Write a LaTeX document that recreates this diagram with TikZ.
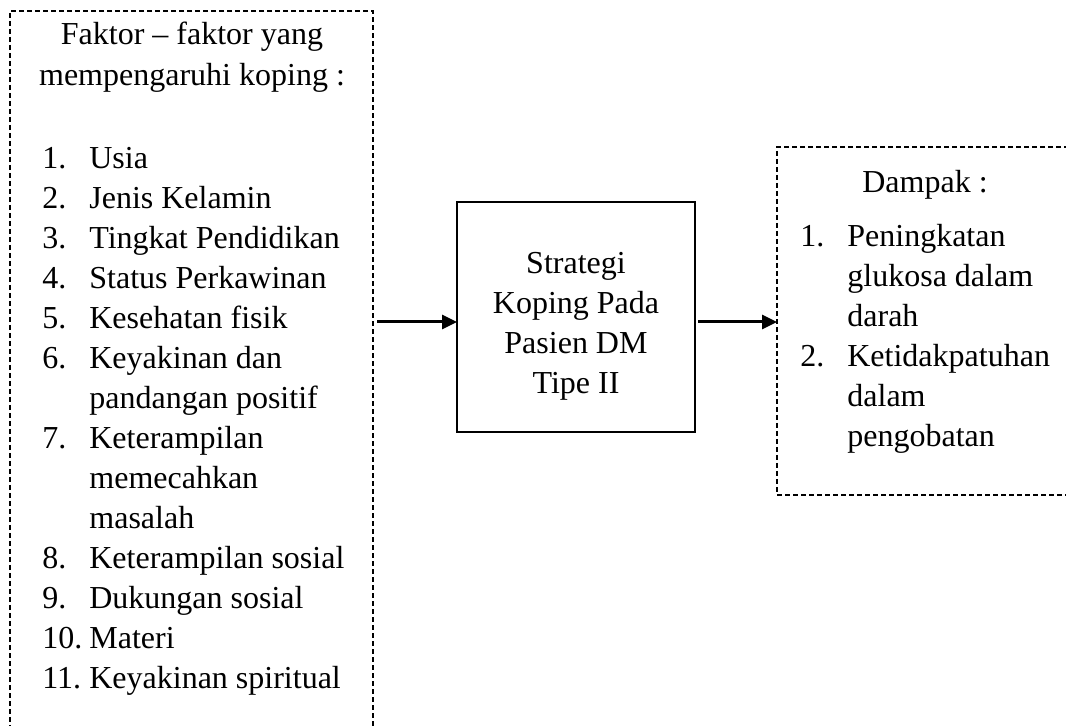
\documentclass[tikz,border=0pt]{standalone}
\usepackage{fontspec}
\setmainfont{Liberation Serif}
\usetikzlibrary{arrows.meta}
\tikzset{
  kotakputus/.style={draw, dash pattern=on 2.5pt off 1.5pt, line width=0.6pt, inner sep=0pt, outer sep=0pt, anchor=north west},
  kotak/.style={draw, line width=1.2pt, minimum width=119pt, minimum height=115pt, inner sep=0pt, outer sep=0pt},
  teks/.style={font=\fontsize{16}{20}\selectfont, inner sep=0pt},
  panah/.style={line width=1.5pt, -{Triangle[length=7.5pt,width=7pt]}}
}
\begin{document}
\begin{tikzpicture}[x=0.5pt,y=-0.5pt]
            \useasboundingbox (0,0) rectangle (1066,726);
            \clip (0,0) rectangle (1066,726);
            \node[kotakputus, minimum width=181.5pt, minimum height=380pt] (faktor) at (10,11) {};
            \node[kotak] (koping) at (576,317) {};
            \node[kotakputus, minimum width=150pt, minimum height=174pt] (dampak) at (777,147) {};
            \node[teks, anchor=base] (judul) at (192,45) {\begin{tabular}[t]{@{}c@{}}Faktor – faktor yang\\[0.5pt] mempengaruhi koping :\end{tabular}};
            \node[teks, anchor=base west] (daftar) at (42,169) {\begin{tabular}[t]{@{}p{23.5pt}@{}l@{}}
              1. & Usia\\ 2. & Jenis Kelamin\\ 3. & Tingkat Pendidikan\\ 4. & Status Perkawinan\\
              5. & Kesehatan fisik\\ 6. & Keyakinan dan\\ & pandangan positif\\ 7. & Keterampilan\\
              & memecahkan\\ & masalah\\ 8. & Keterampilan sosial\\ 9. & Dukungan sosial\\
              10. & Materi\\ 11. & Keyakinan spiritual\end{tabular}};
            \node[teks, anchor=base] (kopingteks) at (576,274) {\begin{tabular}[t]{@{}c@{}}Strategi\\ Koping Pada\\ Pasien DM\\ Tipe II\end{tabular}};
            \node[teks, anchor=base] (dampakjudul) at (925,193) {Dampak :};
            \node[teks, anchor=base west] (dampakdaftar) at (800,247) {\begin{tabular}[t]{@{}p{23.5pt}@{}l@{}}
              1. & Peningkatan\\ & glukosa dalam\\ & darah\\ 2. & Ketidakpatuhan\\ & dalam\\ & pengobatan\end{tabular}};
            \coordinate (jalur) at (0,322);
            \draw[panah] ([xshift=2pt]faktor.east |- jalur) -- (koping.west |- jalur);
            \draw[panah] ([xshift=1.5pt]koping.east |- jalur) -- (dampak.west |- jalur);
        \end{tikzpicture}
\end{document}
